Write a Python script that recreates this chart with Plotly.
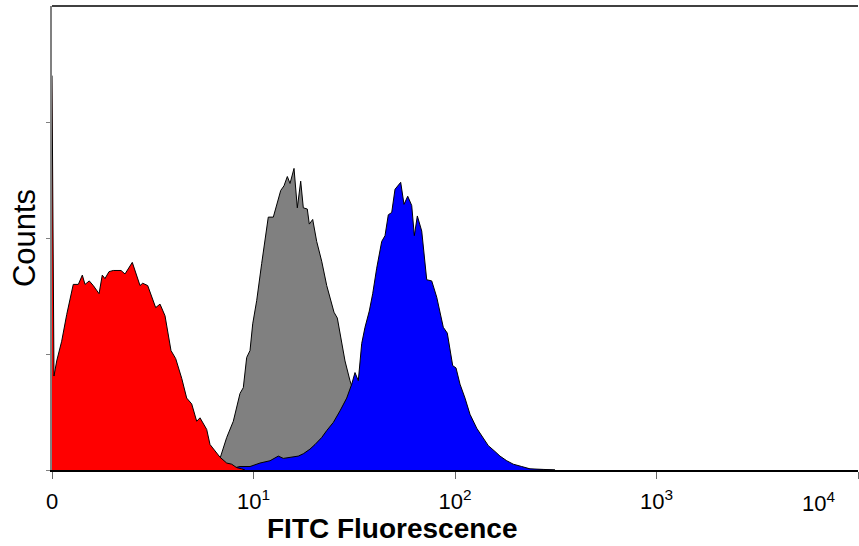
import plotly.graph_objects as go

# FITC fluorescence (log scale) and event counts for each histogram
red_fluor = [1.00, 1.023, 1.055, 1.117, 1.183, 1.275, 1.351, 1.414, 1.458, 1.531, 1.603, 1.712, 1.776,
             1.832, 1.918, 2.015, 2.200, 2.303, 2.503, 2.734, 2.819, 2.985, 3.270, 3.436, 3.638, 3.895,
             4.111, 4.403, 4.661, 4.935, 5.225, 5.427, 5.857, 6.083, 6.821, 7.362, 7.796, 8.254, 8.738, 9.075]
red_counts = [340, 81, 94, 111, 134, 160, 160, 168, 160, 163, 159, 152, 168,
              165, 171, 172, 172, 169, 179, 159, 161, 159, 140, 143, 133, 103,
              96, 79, 62, 57, 42, 45, 35, 22, 11, 6, 5, 2, 1, 0]

gray_fluor = [6.44, 6.82, 7.36, 7.94, 8.57, 8.90, 9.25, 9.61, 9.91, 10.37, 10.98, 11.40, 11.84, 12.54,
              13.04, 13.65, 14.17, 14.72, 15.18, 15.89, 16.50, 17.15, 17.67, 18.49, 18.92, 19.67, 20.59,
              21.80, 23.09, 23.97, 25.09, 26.06, 27.40, 28.45, 30.12, 31.89, 35.75, 42.45, 53.33, 75.1,
              118.7, 210.2, 313.6]
gray_counts = [0, 10, 28, 42, 66, 71, 97, 103, 126, 146, 178, 197, 218, 218,
               229, 241, 245, 253, 247, 260, 226, 249, 226, 225, 212, 216, 197,
               180, 159, 149, 136, 131, 111, 94, 77, 64, 42, 21, 8, 3,
               2, 1, 0]

blue_fluor = [7.22, 8.57, 9.61, 10.77, 12.08, 13.28, 14.06, 15.18, 16.69, 17.67, 19.07, 20.20, 21.80,
              23.09, 24.89, 26.87, 29.01, 30.72, 31.89, 33.12, 34.43, 35.75, 37.55, 39.04, 40.87, 43.27,
              44.94, 46.67, 48.52, 50.38, 52.31, 53.77, 55.84, 58.26, 60.98, 62.82, 65.02, 68.37, 72.39,
              76.64, 81.15, 87.50, 91.59, 97.41, 101.16, 105.88, 112.11, 118.7, 128.2, 138.2, 146.3,
              157.9, 167.2, 180.6, 194.7, 214.3, 235.6, 274.3, 313.6]
blue_counts = [0, 3, 3, 6, 8, 12, 10, 11, 12, 14, 18, 22, 28,
               34, 41, 51, 62, 74, 84, 77, 109, 123, 137, 152, 174, 197,
               202, 220, 222, 242, 245, 248, 229, 236, 228, 202, 219, 206, 164,
               163, 149, 123, 118, 90, 88, 74, 62, 48, 36, 28, 21,
               16, 12, 8, 5, 3, 1, 0.5, 0]

x_tickvals = [1, 10, 100, 1000, 10000]
x_ticktext = ["0", "10<sup>1</sup>", "10<sup>2</sup>", "10<sup>3</sup>", ""]
y_tickvals = [0, 100, 200, 300]

fig = go.Figure()
for xs, ys, col in [(gray_fluor, gray_counts, "#808080"),
                    (blue_fluor, blue_counts, "#0000FF"),
                    (red_fluor, red_counts, "#FF0000")]:
    fig.add_trace(go.Scatter(x=xs, y=ys, mode="lines", fill="tozeroy",
                             fillcolor=col, line=dict(color="black", width=1),
                             showlegend=False, hoverinfo="skip"))

fig.update_layout(
    width=859, height=546,
    margin=dict(l=52, r=1, t=6, b=76),
    plot_bgcolor="white", paper_bgcolor="white",
    font=dict(family="Liberation Sans, Arial, sans-serif", color="black"),
    xaxis=dict(type="log", range=[0, 4], tickvals=x_tickvals, ticktext=x_ticktext,
               ticks="outside", ticklen=7, tickcolor="#666666", tickwidth=1,
               showline=True, linecolor="black", linewidth=1.5,
               showgrid=False, zeroline=False, tickfont=dict(size=22),
               ticklabelstandoff=4),
    yaxis=dict(range=[0, 400], tickvals=y_tickvals, showticklabels=False,
               ticks="outside", ticklen=4, tickcolor="#808080", tickwidth=1,
               showline=True, linecolor="#808080", linewidth=1.5,
               showgrid=False, zeroline=False,
               title=dict(text="Counts", font=dict(size=31), standoff=1)),
    shapes=[dict(type="line", xref="paper", yref="paper", x0=0, x1=1, y0=1, y1=1,
                 line=dict(color="black", width=1.5))],
    annotations=[
        dict(text="10<sup>4</sup>", xref="paper", yref="paper", x=1, y=0,
             xanchor="right", yanchor="top", xshift=-21, yshift=-16,
             showarrow=False, font=dict(size=22)),
        dict(text="<b>FITC Fluorescence</b>", xref="paper", yref="paper", x=0.422, y=0,
             xanchor="center", yanchor="middle", yshift=-58,
             showarrow=False, font=dict(size=28)),
    ],
)

fig.write_html("out.html")
